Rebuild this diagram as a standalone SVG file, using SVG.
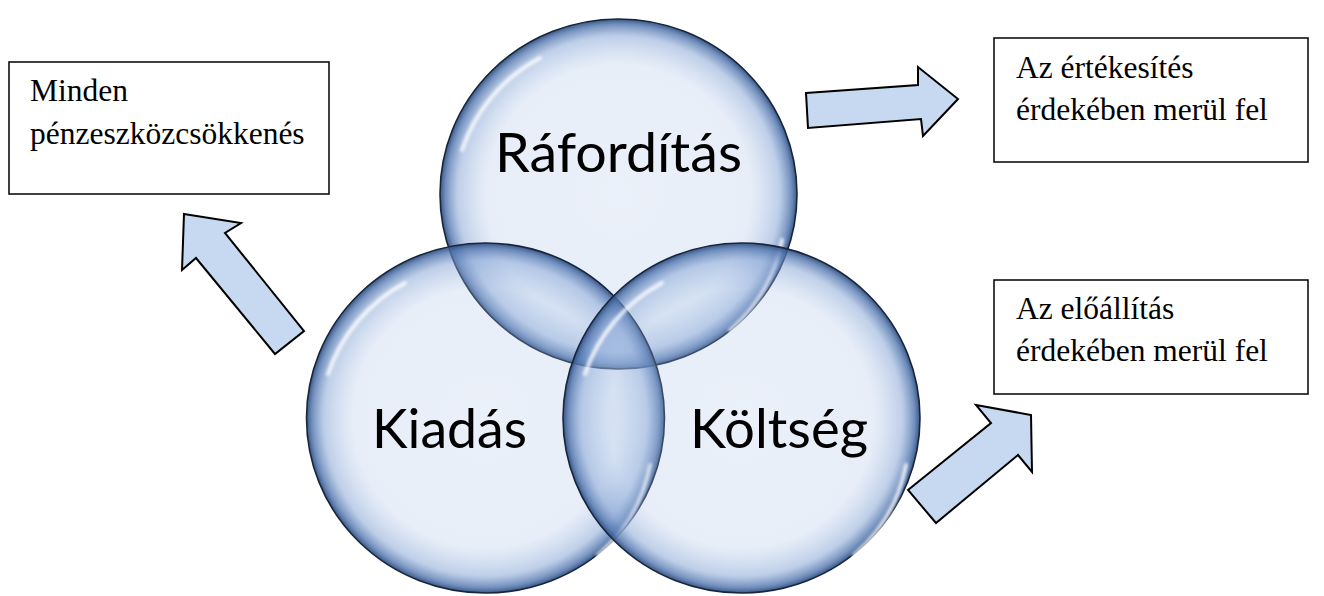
<svg xmlns="http://www.w3.org/2000/svg" width="1324" height="596" viewBox="0 0 1324 596">
  <defs>
    <radialGradient id="bubble" cx="0.5" cy="0.5" r="0.5">
      <stop offset="0" stop-color="#a3bde4" stop-opacity="0.22"/>
      <stop offset="0.74" stop-color="#a3bde4" stop-opacity="0.26"/>
      <stop offset="0.9" stop-color="#7f9fd2" stop-opacity="0.5"/>
      <stop offset="0.97" stop-color="#4d72ab" stop-opacity="0.8"/>
      <stop offset="1" stop-color="#2f4d7e" stop-opacity="0.95"/>
    </radialGradient>
    <filter id="soft" x="-10%" y="-10%" width="120%" height="120%">
      <feGaussianBlur stdDeviation="1.6"/>
    </filter>
  </defs>
  <style>
    .bubble { fill: url(#bubble); stroke: #18263c; stroke-width: 1.6; }
    .gloss { fill: none; stroke: #ffffff; stroke-opacity: 0.8; stroke-width: 4; stroke-linecap: round; filter: url(#soft); }
    .big { font-family: Lato, "Open Sans", sans-serif; font-size: 55px; fill: #000; text-anchor: middle; }
    .box { fill: #ffffff; stroke: #000000; stroke-width: 1.5; }
    .boxtext { font-family: "Liberation Serif", "Times New Roman", serif; font-size: 31.5px; fill: #000; }
    .arrow { fill: #c6d9f1; stroke: #000000; stroke-width: 2; stroke-linejoin: miter; }
  </style>
  <rect width="1324" height="596" fill="#ffffff"/>

  <g id="node-rafordites">
    <ellipse class="bubble" cx="618.5" cy="194" rx="178.5" ry="175"/>
    <path class="gloss" d="M 462 150 A 165 160 0 0 1 540 58"/>
    <path class="gloss" d="M 782 240 A 165 160 0 0 1 730 330"/>
  </g>
  <g id="node-kiadas">
    <ellipse class="bubble" cx="485.5" cy="418" rx="179" ry="175"/>
    <path class="gloss" d="M 328 374 A 165 160 0 0 1 405 283"/>
    <path class="gloss" d="M 650 465 A 165 160 0 0 1 598 555"/>
  </g>
  <g id="node-koltseg">
    <ellipse class="bubble" cx="741.5" cy="418" rx="178.5" ry="175"/>
    <path class="gloss" d="M 585 374 A 165 160 0 0 1 662 283"/>
    <path class="gloss" d="M 906 465 A 165 160 0 0 1 854 555"/>
  </g>

  <g id="labels">
    <text class="big" x="618.5" y="172" textLength="247" lengthAdjust="spacingAndGlyphs">Ráfordítás</text>
    <text class="big" x="449.5" y="448" textLength="155" lengthAdjust="spacingAndGlyphs">Kiadás</text>
    <text class="big" x="779" y="448" textLength="178" lengthAdjust="spacingAndGlyphs">Költség</text>
  </g>

  <g id="connectors">
    <polygon class="arrow" points="806,93 918,85 918,67 958,99 923,136 921,119 808,128"/>
    <polygon class="arrow" points="184,214 241,223 225,233 304,331 275,354 196,258 182,270"/>
    <polygon class="arrow" points="908,490 991,423 976,405 1031,415 1032,472 1018,455 936,523"/>
  </g>

  <g id="box-minden">
    <rect class="box" x="9" y="62" width="320" height="132"/>
    <text class="boxtext" x="30" y="101">Minden</text>
    <text class="boxtext" x="30" y="144">pénzeszközcsökkenés</text>
  </g>
  <g id="box-ertekesites">
    <rect class="box" x="994" y="38" width="314" height="124"/>
    <text class="boxtext" x="1016" y="78">Az értékesítés</text>
    <text class="boxtext" x="1016" y="120">érdekében merül fel</text>
  </g>
  <g id="box-eloallitas">
    <rect class="box" x="994" y="280" width="314" height="114"/>
    <text class="boxtext" x="1016" y="319">Az előállítás</text>
    <text class="boxtext" x="1016" y="361">érdekében merül fel</text>
  </g>
</svg>
